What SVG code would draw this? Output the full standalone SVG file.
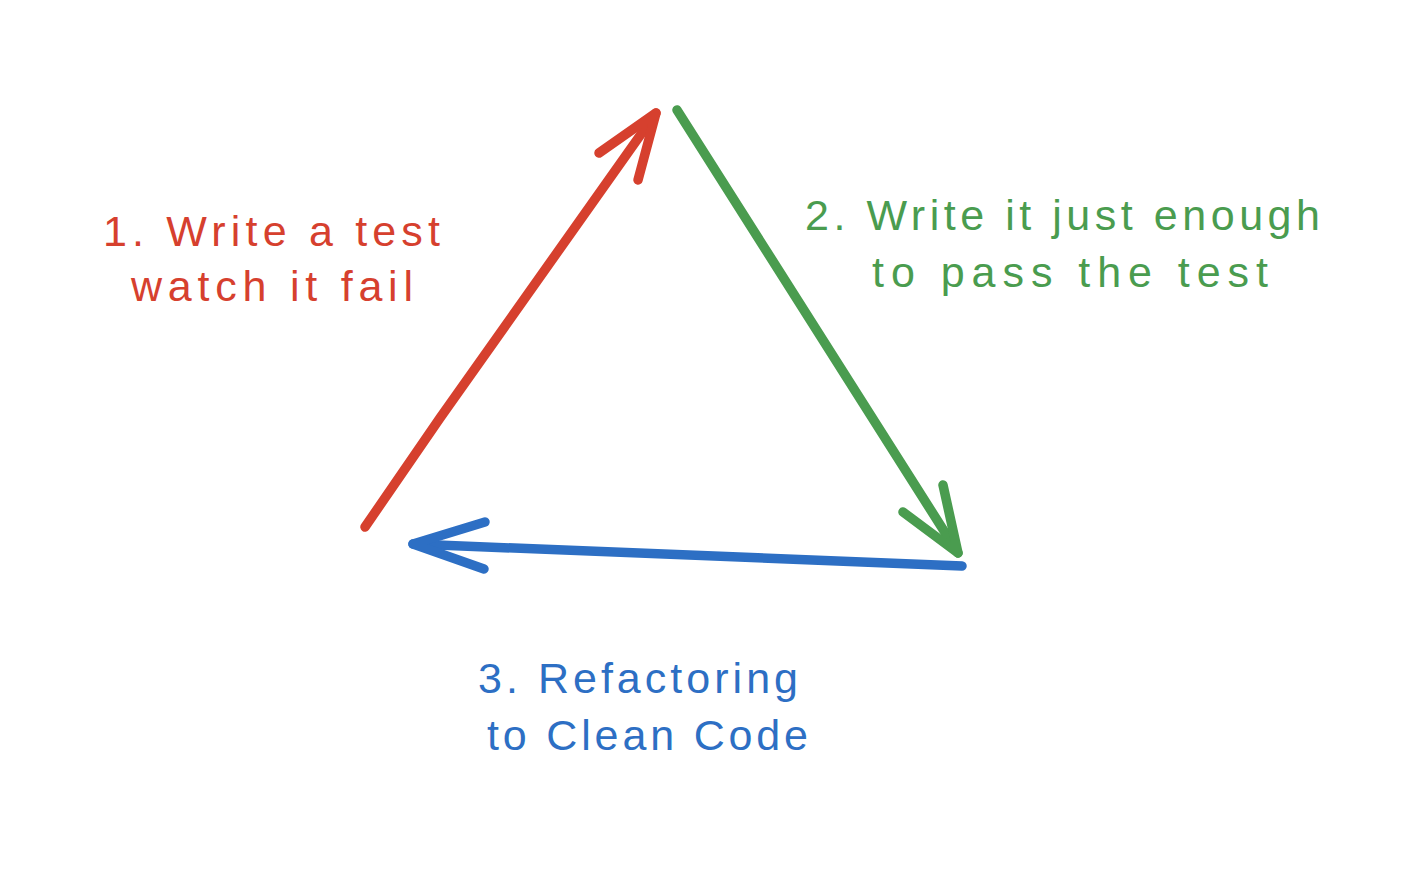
<svg xmlns="http://www.w3.org/2000/svg" width="1406" height="890" viewBox="0 0 1406 890">
<style>
.ln{fill:none;stroke-width:9.5;stroke-linecap:round;stroke-linejoin:round}
.r{stroke:#d6402e}.g{stroke:#4a9c4f}.b{stroke:#2d6fc4}
.t{font-family:"Liberation Sans","DejaVu Sans",sans-serif;font-size:43px;font-weight:normal}
.tr{fill:#d6402e}.tg{fill:#4a9c4f}.tb{fill:#2d6fc4}
</style>
<rect width="1406" height="890" fill="#ffffff"/>
<g id="connectors">
<g id="arrow-red">
<path class="ln r" d="M365,527 L440,418 L656,113"/>
<path class="ln r" d="M599,153 L656,113 L638,180"/>
</g>
<g id="arrow-green">
<path class="ln g" d="M677,110 L958,553"/>
<path class="ln g" d="M903,512 L958,553 L943,485"/>
</g>
<g id="arrow-blue">
<path class="ln b" d="M962,566 L413,544"/>
<path class="ln b" d="M485,522 L413,544 L484,569"/>
</g>
</g>
<g id="label-1">
<text class="t tr" x="103" y="246" textLength="337" lengthAdjust="spacing">1. Write a test</text>
<text class="t tr" x="131" y="301" textLength="282" lengthAdjust="spacing">watch it fail</text>
</g>
<g id="label-2">
<text class="t tg" x="805" y="230" textLength="515" lengthAdjust="spacing">2. Write it just enough</text>
<text class="t tg" x="872" y="287" textLength="396" lengthAdjust="spacing">to pass the test</text>
</g>
<g id="label-3">
<text class="t tb" x="478" y="693" textLength="320" lengthAdjust="spacing">3. Refactoring</text>
<text class="t tb" x="487" y="750" textLength="321" lengthAdjust="spacing">to Clean Code</text>
</g>
</svg>
